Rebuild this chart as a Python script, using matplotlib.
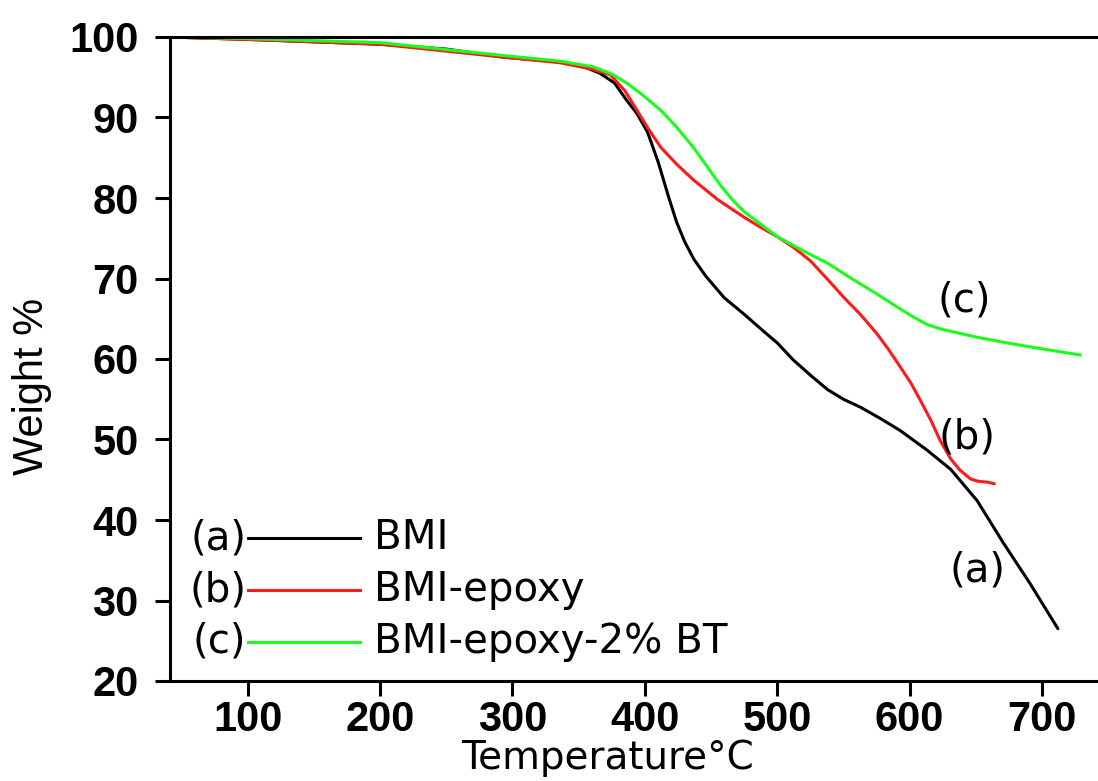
import matplotlib
matplotlib.use("Agg")
import matplotlib.pyplot as plt
from matplotlib.lines import Line2D

plt.rcParams['font.family'] = ['Liberation Sans', 'DejaVu Sans']

# TGA data
temp_a = [41, 60, 100, 150, 200, 250, 293, 336, 351, 366, 377, 386, 394, 402, 410,
          418, 424, 430, 437, 446, 460, 474, 490, 500, 512, 525, 538, 550, 563, 578,
          593, 613, 631, 651, 671, 691, 712]
weight_a = [100, 99.9, 99.7, 99.4, 99.1, 98.5, 97.5, 96.9, 96.5, 95.5, 94.3, 92.2, 90.5, 88.2, 84.5,
            80.1, 77.0, 74.6, 72.4, 70.3, 67.6, 65.7, 63.4, 62.0, 59.9, 58.0, 56.2, 55.0, 54.0, 52.6,
            51.1, 48.7, 46.3, 42.4, 37.1, 32.1, 26.5]

temp_b = [41, 100, 200, 293, 336, 360, 374, 385, 394, 403, 412, 424, 437, 455, 475,
          487, 500, 512, 525, 538, 550, 563, 575, 584, 593, 601, 608, 616, 623, 631,
          638, 646, 652, 659, 664]
weight_b = [100, 99.7, 99.1, 97.5, 96.8, 96.0, 95.3, 93.3, 90.9, 88.5, 86.3, 84.2, 82.2, 79.8, 77.6,
            76.4, 75.2, 73.9, 72.2, 69.9, 67.7, 65.5, 63.2, 61.2, 59.0, 57.0, 54.9, 52.4, 49.9, 47.6,
            46.2, 45.1, 44.8, 44.7, 44.5]

temp_c = [41, 100, 200, 293, 336, 361, 375, 387, 399, 412, 424, 437, 447, 457, 466,
          475, 487, 500, 520, 538, 556, 575, 594, 604, 613, 622, 632, 651, 667, 684,
          706, 729]
weight_c = [100, 99.8, 99.3, 97.7, 97.0, 96.3, 95.4, 94.2, 92.7, 90.9, 88.8, 86.2, 83.9, 81.6, 79.8,
            78.3, 76.8, 75.2, 73.4, 71.9, 70.0, 68.1, 66.1, 65.1, 64.3, 63.8, 63.4, 62.7, 62.2, 61.7,
            61.1, 60.5]

tags = ['(a)', '(b)', '(c)']
names = ['BMI', 'BMI-epoxy', 'BMI-epoxy-2% BT']
colors = ['black', '#ff1a1a', '#1aff1a']

# curve tag positions (temperature, weight)
tag_pos = [(651, 33.7), (643, 50.3), (641, 67.3)]

wide = ['DejaVu Sans']

fig = plt.figure(figsize=(10.98, 7.81), dpi=100)
ax = fig.add_axes([170 / 1098, 1 - 681 / 781, 928 / 1098, 644 / 781])

series = [(temp_a, weight_a), (temp_b, weight_b), (temp_c, weight_c)]
for (t, w), col in zip(series, colors):
    ax.plot(t, w, color=col, lw=2.2, solid_capstyle='round', solid_joinstyle='round')

ax.set_xlim(41.3, 742.3)
ax.set_ylim(20, 100)
ax.set_xticks([100, 200, 300, 400, 500, 600, 700])
ax.set_yticks([20, 30, 40, 50, 60, 70, 80, 90, 100])

ax.spines['right'].set_visible(False)
for s in ['left', 'bottom', 'top']:
    ax.spines[s].set_linewidth(2.2)
ax.tick_params(direction='out', length=10.5, width=2.2, labelsize=30)
ax.tick_params(axis='x', pad=3.5)
ax.tick_params(axis='y', pad=12)
for lab in ax.get_xticklabels() + ax.get_yticklabels():
    lab.set_fontweight('bold')

ax.set_xlabel('Temperature°C', fontsize=28, family=wide)
ax.xaxis.set_label_coords(0.471, -0.1366)
ax.xaxis.label.set_va('baseline')
ax.set_ylabel('Weight %', fontsize=30)
ax.yaxis.set_label_coords(-0.1487, 0.457)
ax.yaxis.label.set_va('center')

for tag, (x, y) in zip(tags, tag_pos):
    ax.text(x, y, tag, fontsize=29, ha='center', va='center', family=wide)

# legend drawn by hand: "(a)" ---- BMI
rows = [0.222, 0.1413, 0.061]
for tag, name, col, yy in zip(tags, names, colors, rows):
    ax.text(0.0819, yy, tag, transform=ax.transAxes, fontsize=29, ha='right', va='center', family=wide)
    ax.add_line(Line2D([0.084, 0.2047], [yy, yy], transform=ax.transAxes, color=col, lw=2.2))
    ax.text(0.2198, yy, name, transform=ax.transAxes, fontsize=29, ha='left', va='center', family=wide)

fig.savefig('out.png', dpi=100)
